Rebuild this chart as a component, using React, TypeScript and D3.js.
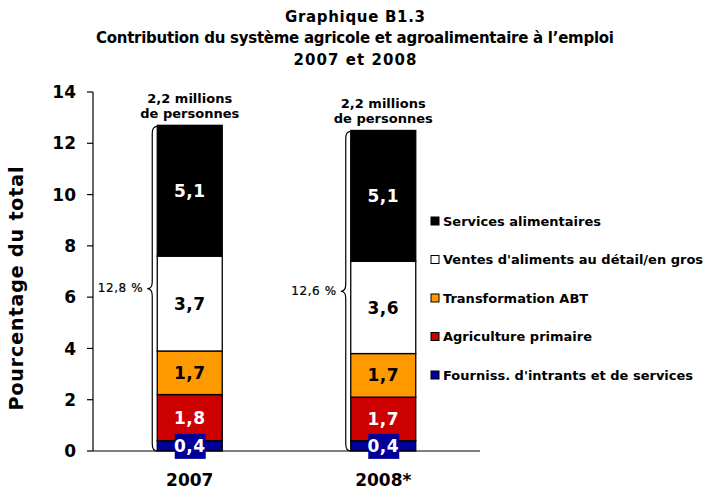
import React from "react";
import * as d3 from "d3";

const categories = ["2007", "2008*"];
const seriesNames = [
  "Fourniss. d'intrants et de services",
  "Agriculture primaire",
  "Transformation ABT",
  "Ventes d'aliments au détail/en gros",
  "Services alimentaires",
];
const fournissValues = [0.4, 0.4];
const agricultureValues = [1.8, 1.7];
const transformationValues = [1.7, 1.7];
const ventesValues = [3.7, 3.6];
const servicesValues = [5.1, 5.1];
const totalLabels = ["12,8 %", "12,6 %"];
const topLabels = ["2,2 millions", "de personnes"];
const yTicks = [0, 2, 4, 6, 8, 10, 12, 14];
const colors = ["#000099", "#cc0000", "#ff9900", "#ffffff", "#000000"];
const labelColors = ["#ffffff", "#ffffff", "#000000", "#000000", "#ffffff"];
const titleLines = [
  "Graphique B1.3",
  "Contribution du système agricole et agroalimentaire à l’emploi",
  "2007 et 2008",
];

const fmt = (v: number) => v.toFixed(1).replace(".", ",");

export default function App() {
  const W = 715, H = 489;
  const left = 93, right = 480, top = 92, bottom = 451;
  const y = d3.scaleLinear().domain([0, 14]).range([bottom, top]);
  const x = d3.scalePoint<string>().domain(categories).range([left, right]).padding(0.5);
  const barW = 65;

  const seriesValues = [fournissValues, agricultureValues, transformationValues, ventesValues, servicesValues];
  const table = categories.map((c, i) => {
    const row: any = { cat: c };
    seriesNames.forEach((s, k) => (row[s] = seriesValues[k][i]));
    return row;
  });
  const stacked = d3.stack<any>().keys(seriesNames)(table);

  const font = "'DejaVu Sans', Verdana, sans-serif";
  const titleLens = [140, 518, 123];
  const titleY = [21.5, 43, 65];

  const brace = (xr: number, y0: number, y1: number) => {
    const x1 = xr - 5, xt = xr - 10, r = 7;
    const mid = (y0 + y1) / 2;
    return `M${xr},${y0} Q${x1},${y0} ${x1},${y0 + r} L${x1},${mid - r} Q${x1},${mid} ${xt},${mid} Q${x1},${mid} ${x1},${mid + r} L${x1},${y1 - r} Q${x1},${y1} ${xr},${y1}`;
  };

  return (
    <svg width={W} height={H} style={{ display: "block", position: "absolute", left: 0, top: 0 }}>
      <rect width={W} height={H} fill="#fff" />
      {titleLines.map((t, i) => (
        <text key={i} x={355} y={titleY[i]} textAnchor="middle" textLength={titleLens[i]} lengthAdjust="spacing"
          fontFamily={font} fontWeight="bold" fontSize={15}>{t}</text>
      ))}
      {/* y axis */}
      <line x1={left} x2={left} y1={top} y2={bottom} stroke="#000" strokeWidth={1.2} />
      {yTicks.map((t) => (
        <g key={t}>
          <line x1={left - 6} x2={left} y1={y(t)} y2={y(t)} stroke="#000" strokeWidth={1.2} />
          <text x={76} y={y(t)} dy="0.36em" textAnchor="end" fontFamily={font} fontWeight="bold" fontSize={17}>{t}</text>
        </g>
      ))}
      <text transform={`translate(23,288) rotate(-90)`} textAnchor="middle" fontFamily={font}
        fontWeight="bold" fontSize={19} letterSpacing={0.9}>Pourcentage du total</text>
      {/* bars */}
      {stacked.map((s, k) => (
        <g key={s.key}>
          {s.map((d, i) => {
            const cx = x(categories[i])!;
            return (
              <rect key={i} x={cx - barW / 2} y={y(d[1])} width={barW} height={y(d[0]) - y(d[1])}
                fill={colors[k]} stroke="#000" strokeWidth={1.3} />
            );
          })}
        </g>
      ))}
      <line x1={left} x2={right} y1={bottom} y2={bottom} stroke="#000" strokeWidth={1.2} />
      {/* value labels */}
      {stacked.map((s, k) => (
        <g key={"l" + s.key}>
          {s.map((d, i) => {
            const cx = x(categories[i])!;
            const cy = (y(d[0]) + y(d[1])) / 2;
            return (
              <g key={i}>
                {k === 0 && <rect x={cx - 15} y={cy - 12} width={31} height={25} fill={colors[0]} />}
                <text x={cx} y={cy} dy="0.36em" textAnchor="middle" fontFamily={font} fontWeight="bold"
                  fontSize={17} letterSpacing={0.5} fill={labelColors[k]}>{fmt(d[1] - d[0])}</text>
              </g>
            );
          })}
        </g>
      ))}
      {/* braces, totals and top labels */}
      {categories.map((c, i) => {
        const cx = x(c)!;
        const total = stacked[stacked.length - 1][i][1];
        const yt = y(total);
        const xl = cx - barW / 2;
        return (
          <g key={"b" + c}>
            <path d={brace(xl, yt + 1, bottom)} fill="none" stroke="#000" strokeWidth={1.2} />
            <text x={xl - 14} y={(yt + bottom) / 2} dy="0.36em" textAnchor="end" fontFamily={font}
              fontSize={12} letterSpacing={0.6} stroke="#000" strokeWidth={0.2}>{totalLabels[i]}</text>
            <text x={cx} y={yt - 22} textAnchor="middle" fontFamily={font} fontWeight="bold" fontSize={13}>{topLabels[0]}</text>
            <text x={cx} y={yt - 7} textAnchor="middle" fontFamily={font} fontWeight="bold" fontSize={13}>{topLabels[1]}</text>
            <text x={cx} y={486} textAnchor="middle" fontFamily={font} fontWeight="bold" fontSize={17}>{c}</text>
          </g>
        );
      })}
      {/* legend */}
      {seriesNames.slice().reverse().map((s, j) => {
        const k = seriesNames.length - 1 - j;
        const cy = 221 + j * 38.5;
        return (
          <g key={"lg" + s}>
            <rect x={431} y={cy - 4} width={8} height={8} fill={colors[k]} stroke="#000" strokeWidth={1} />
            <text x={443} y={cy} dy="0.36em" fontFamily={font} fontWeight="bold" fontSize={13}>{s}</text>
          </g>
        );
      })}
    </svg>
  );
}
